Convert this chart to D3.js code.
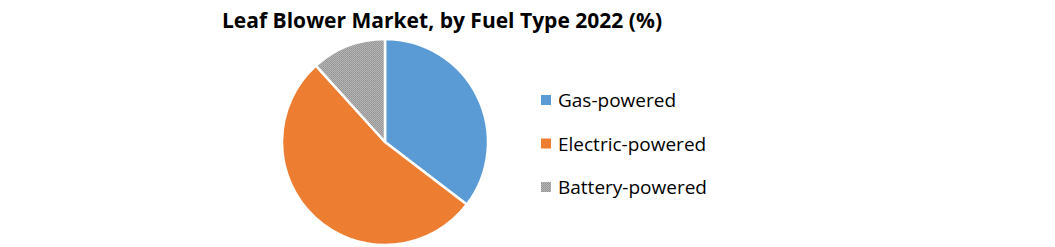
<!DOCTYPE html>
<html>
<head>
<meta charset="utf-8">
<script src="https://cdn.jsdelivr.net/npm/d3@7"></script>
<style>
  body { margin: 0; background: #fff; }
  svg { display: block; }
</style>
</head>
<body>
<svg id="chart"></svg>
<script>
const categories = ['Gas-powered', 'Electric-powered', 'Battery-powered'];
const shares = [35.4, 52.9, 11.7];
const colors = ['#5b9bd5', '#ed7d31', 'url(#dots)'];

const width = 1055, height = 247;
const svg = d3.select('#chart').attr('width', width).attr('height', height);

// dotted grey fill for battery slice
const defs = svg.append('defs');
const pat = defs.append('pattern')
  .attr('id', 'dots')
  .attr('width', 2).attr('height', 2)
  .attr('patternUnits', 'userSpaceOnUse');
pat.append('rect').attr('width', 2).attr('height', 2).attr('fill', '#b4b4b4');
pat.append('rect').attr('width', 1).attr('height', 1).attr('fill', '#939393');
pat.append('rect').attr('x', 1).attr('y', 1).attr('width', 1).attr('height', 1).attr('fill', '#9c9c9c');

svg.append('text')
  .attr('x', 442)
  .attr('y', 28)
  .attr('text-anchor', 'middle')
  .attr('font-family', 'Open Sans, sans-serif')
  .attr('font-weight', 'bold')
  .attr('font-size', 21)
  .attr('textLength', 440)
  .attr('fill', '#000')
  .text('Leaf Blower Market, by Fuel Type 2022 (%)');

const pie = d3.pie().sort(null).value(d => d);
const arc = d3.arc().innerRadius(0).outerRadius(103);

const g = svg.append('g').attr('transform', 'translate(385,142)');
g.selectAll('path')
  .data(pie(shares))
  .join('path')
  .attr('d', arc)
  .attr('fill', (d, i) => colors[i])
  .attr('stroke', '#fff')
  .attr('stroke-width', 2.5)
  .attr('stroke-linejoin', 'round');

const legend = svg.append('g').attr('transform', 'translate(541,100)');
const rows = legend.selectAll('g')
  .data(categories)
  .join('g')
  .attr('transform', (d, i) => `translate(0,${i * 43.5})`);

rows.append('rect')
  .attr('x', 0).attr('y', -5)
  .attr('width', 10).attr('height', 10)
  .attr('fill', (d, i) => colors[i]);

rows.append('text')
  .attr('x', 17)
  .attr('y', 7)
  .attr('font-family', 'Open Sans, sans-serif')
  .attr('font-size', 19)
  .attr('fill', '#000')
  .text(d => d);
</script>
</body>
</html>
